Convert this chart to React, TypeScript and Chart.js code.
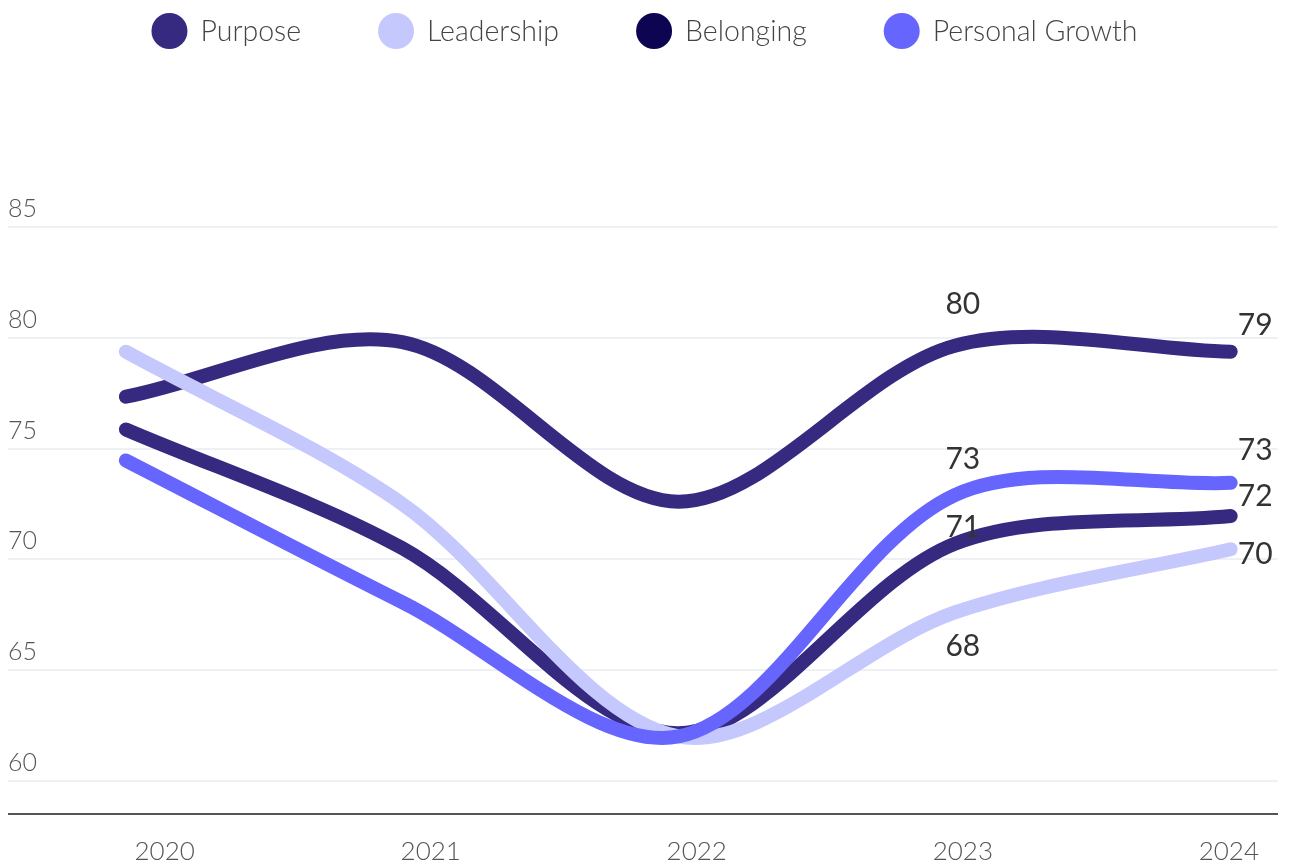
import React, { useEffect, useRef } from "react";
import { Chart, registerables } from "chart.js";

Chart.register(...registerables);

// ---- data ----
const years = [2020, 2021, 2022, 2023, 2024];
const surveyDates = [2019.854, 2020.893, 2021.931, 2022.97, 2024.007];
const seriesNames = ["Purpose", "Leadership", "Belonging", "Personal Growth"];
const purpose = [77.34, 79.8, 72.6, 79.64, 79.37];
const leadership = [79.37, 72.5, 62.0, 67.6, 70.45];
const belonging = [75.86, 70.5, 62.15, 70.7, 71.95];
const personalGrowth = [74.46, 68.06, 62.0, 72.9, 73.45];
const yTicks = [60, 65, 70, 75, 80, 85];
const labelledYears = [2023, 2024];

// ---- styles ----
const legendColors = ["#352a80", "#c5c8fd", "#0e0552", "#6666ff"];
const lineColors = ["#352a80", "#c5c8fd", "#352a80", "#6666ff"];
const drawOrder = [3, 1, 2, 0];
const labelOffsets = [
  [-41, -26],
  [34, 5],
  [-16, -20],
  [-36, -33],
];

const FONT = "Lato, 'Open Sans', sans-serif";

const legendPlugin = {
  id: "customLegend",
  afterDraw(chart: any) {
    const ctx = chart.ctx;
    ctx.save();
    ctx.font = `300 28.5px ${FONT}`;
    const r = 18;
    const gapText = 13;
    const gapItem = 77;
    const widths = seriesNames.map((n) => ctx.measureText(n).width);
    const total =
      widths.reduce((a, w) => a + 2 * r + gapText + w, 0) + gapItem * (seriesNames.length - 1);
    let x = (chart.width - total) / 2;
    const cy = 23;
    seriesNames.forEach((name, i) => {
      ctx.beginPath();
      ctx.fillStyle = legendColors[i];
      ctx.arc(x + r, cy, r, 0, Math.PI * 2);
      ctx.fill();
      ctx.fillStyle = "#444444";
      ctx.textAlign = "left";
      ctx.textBaseline = "middle";
      ctx.fillText(name, x + 2 * r + gapText, cy + 1);
      x += 2 * r + gapText + widths[i] + gapItem;
    });
    ctx.restore();
  },
};

const dataLabelPlugin = {
  id: "dataLabels",
  afterDatasetsDraw(chart: any) {
    const ctx = chart.ctx;
    const xs = chart.scales.x;
    const ys = chart.scales.y;
    ctx.save();
    ctx.font = `400 30px ${FONT}`;
    ctx.fillStyle = "#333333";
    ctx.textBaseline = "middle";
    chart.data.datasets.forEach((ds: any, di: number) => {
      labelledYears.forEach((yr, li) => {
        const idx = years.indexOf(yr);
        const v = ds.data[idx].y;
        const isLast = idx === years.length - 1;
        const px = xs.getPixelForValue(yr) + (isLast ? 9 : 0);
        ctx.textAlign = isLast ? "left" : "center";
        const py = ys.getPixelForValue(v) + labelOffsets[di][li];
        ctx.fillText(String(Math.round(v)), px, py);
      });
    });
    ctx.restore();
  },
};

export default function App() {
  const canvasRef = useRef<HTMLCanvasElement | null>(null);

  useEffect(() => {
    document.documentElement.style.overflow = "hidden";
    const canvas = canvasRef.current;
    if (!canvas) return;
    const series = [purpose, leadership, belonging, personalGrowth];
    const chart = new Chart(canvas, {
      type: "line",
      data: {
        datasets: series.map((vals, i) => ({
          label: seriesNames[i],
          data: vals.map((v, j) => ({ x: surveyDates[j], y: v })),
          borderColor: lineColors[i],
          backgroundColor: legendColors[i],
          borderWidth: 14,
          borderCapStyle: "round",
          borderJoinStyle: "round",
          tension: 0.32,
          pointRadius: 0,
          pointHoverRadius: 0,
          fill: false,
          order: drawOrder[i],
        })),
      },
      options: {
        animation: false,
        responsive: true,
        maintainAspectRatio: false,
        layout: { padding: { top: 219, left: 0, right: 0, bottom: 0 } },
        plugins: {
          legend: { display: false },
          tooltip: { enabled: false },
        },
        scales: {
          x: {
            type: "linear",
            min: 2019.411,
            max: 2024.184,
            afterBuildTicks: (s: any) => {
              s.ticks = years.map((v) => ({ value: v }));
            },
            afterFit: (s: any) => {
              s.height = 51;
            },
            ticks: {
              callback: (v: any) => String(v),
              font: { family: FONT, size: 26, weight: "300" },
              color: "#555555",
              padding: 22,
              autoSkip: false,
              maxRotation: 0,
            },
            grid: { display: false, drawTicks: false },
            border: { display: true, color: "#555555", width: 2 },
          },
          y: {
            type: "linear",
            min: 58.5,
            max: 85,
            afterBuildTicks: (s: any) => {
              s.ticks = yTicks.map((v) => ({ value: v }));
            },
            ticks: {
              mirror: true,
              padding: 0,
              labelOffset: -18,
              font: { family: FONT, size: 25, weight: "300" },
              color: "#555555",
              callback: (v: any) => String(v),
            },
            grid: { color: "#edf1f4", lineWidth: 2, drawTicks: false },
            border: { display: false },
          },
        },
      },
      plugins: [legendPlugin, dataLabelPlugin],
    } as any);
    return () => chart.destroy();
  }, []);

  return (
    <div style={{ position: "relative", width: "100%", height: "857px" }}>
      <canvas ref={canvasRef} />
    </div>
  );
}
